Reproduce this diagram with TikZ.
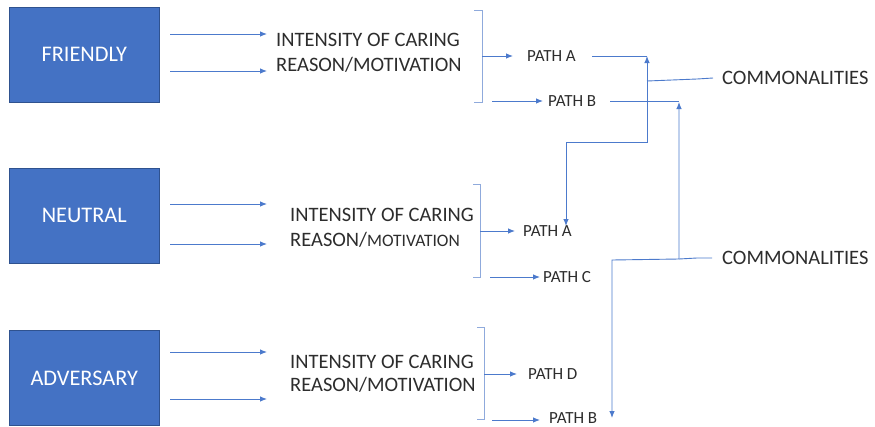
\documentclass[tikz,border=0pt]{standalone}
\usepackage{fontspec}
\setmainfont{Carlito}
\usetikzlibrary{arrows.meta}
\definecolor{boxblue}{RGB}{68,114,196}
\definecolor{boxedge}{RGB}{47,82,143}
\definecolor{linkblue}{RGB}{76,122,204}
\definecolor{braceblue}{RGB}{143,170,220}
\definecolor{ink}{RGB}{45,45,45}
\begin{document}
\begin{tikzpicture}[x=1pt,y=-1pt,
  stance/.style={draw=boxedge, line width=0.8pt, fill=boxblue, text=white,
    minimum width=149.5pt, minimum height=95pt, inner sep=0pt,
    font=\fontsize{22.3}{26}\selectfont},
  big/.style={anchor=west, inner sep=0pt, text=ink, text height=13pt, text depth=0pt,
    font=\fontsize{20.5}{24}\selectfont},
  small/.style={anchor=west, inner sep=0pt, text=ink, text height=10.7pt, text depth=0pt,
    font=\fontsize{17}{20}\selectfont},
  link/.style={draw=linkblue, line width=0.9pt},
  arr/.style={link, -{Latex[length=7pt,width=5.5pt]}},
  dbl/.style={link, {Latex[length=7pt,width=5.5pt]}-{Latex[length=7pt,width=5.5pt]}},
  bracket/.style={draw=braceblue, line width=0.9pt}]

\fill[white] (0,0) rectangle (875,426);
\useasboundingbox (0,0) rectangle (875,426);

% stance boxes
\node[stance] (friendly)  at (84.25,54.5) {FRIENDLY};
\node[stance] (neutral)   at (84.25,215.5) {NEUTRAL};
\node[stance] (adversary) at (84.25,378) {ADVERSARY};

% factor labels
\node[big] (int1) at (276,40)  {INTENSITY OF CARING};
\node[big] (rea1) at (276,65)  {REASON/MOTIVATION};
\node[big] (int2) at (290,215) {INTENSITY OF CARING};
\node[big] (rea2) at (290,240) {REASON/{\fontsize{17.5}{20}\selectfont MOTIVATION}};
\node[big] (int3) at (290,362) {INTENSITY OF CARING};
\node[big] (rea3) at (290,385) {REASON/MOTIVATION};

% path labels
\node[small] (pa1) at (527,56)  {PATH A};
\node[small] (pb1) at (548,101) {PATH B};
\node[small] (pa2) at (523,231) {PATH A};
\node[small] (pc2) at (543,277) {PATH C};
\node[small] (pd3) at (528,374) {PATH D};
\node[small] (pb3) at (549,418) {PATH B};

% outcome labels
\node[big] (com1) at (722,78)  {COMMONALITIES};
\node[big] (com2) at (722,258) {COMMONALITIES};

% box -> factor arrows
\draw[arr, shorten <=11pt, shorten >=9pt]  (friendly.east |- 0,34)   -- (int1.west |- 0,34);
\draw[arr, shorten <=11pt, shorten >=9pt]  (friendly.east |- 0,71)   -- (int1.west |- 0,71);
\draw[arr, shorten <=11pt, shorten >=23pt] (neutral.east |- 0,204)   -- (int2.west |- 0,204);
\draw[arr, shorten <=11pt, shorten >=23pt] (neutral.east |- 0,244)   -- (int2.west |- 0,244);
\draw[arr, shorten <=11pt, shorten >=23pt] (adversary.east |- 0,352) -- (int3.west |- 0,352);
\draw[arr, shorten <=11pt, shorten >=23pt] (adversary.east |- 0,399) -- (int3.west |- 0,399);

% brackets
\draw[bracket] (474,10) -- (482,10) -- (482,102) -- (474,102);
\draw[bracket] (473,184) -- (480,184) -- (480,277) -- (473,277);
\draw[bracket] (477,327) -- (484,327) -- (484,419) -- (477,419);

\coordinate (br1) at (482,56);
\coordinate (br2) at (480,231);
\coordinate (br3) at (484,374);
\coordinate (b1s) at (492,101);
\coordinate (b2s) at (490,277);
\coordinate (b3s) at (492,420);

% bracket -> path arrows
\draw[arr, shorten >=14pt] (br1) -- (br1 -| pa1.west);
\draw[arr, shorten >=5pt]  (b1s) -- (b1s -| pb1.west);
\draw[arr, shorten >=8pt]  (br2) -- (br2 -| pa2.west);
\draw[arr, shorten >=3pt]  (b2s) -- (b2s -| pc2.west);
\draw[arr, shorten >=11pt] (br3) -- (br3 -| pd3.west);
\draw[arr, shorten >=9pt]  (b3s) -- (b3s -| pb3.west);

% first commonality: PATH A links
\coordinate (ja) at (647,56);
\coordinate (jabend) at (647,142);
\coordinate (jaleft) at (566,142);
\coordinate (jaend) at (566,226);
\coordinate (jamid) at (647,81);
\draw[link] ([xshift=16pt]pa1.east) -- (ja);
\draw[dbl] (ja) -- (jabend) -- (jaleft) -- (jaend);
\draw[link] (jamid) -- (697,79) -- ([xshift=-9pt]com1.west);

% second commonality: PATH B links
\coordinate (jb) at (679,102);
\coordinate (jbbend) at (679,259);
\coordinate (jbleft) at (612,260);
\coordinate (jbend) at (612,418);
\draw[link] ([xshift=14pt]pb1.east) -- (jb |- pb1.east);
\draw[dbl] (jb) -- (jbbend) -- (jbleft) -- (jbend);
\draw[link] (jbbend) -- (697,258) -- ([xshift=-10pt]com2.west);

\end{tikzpicture}
\end{document}
